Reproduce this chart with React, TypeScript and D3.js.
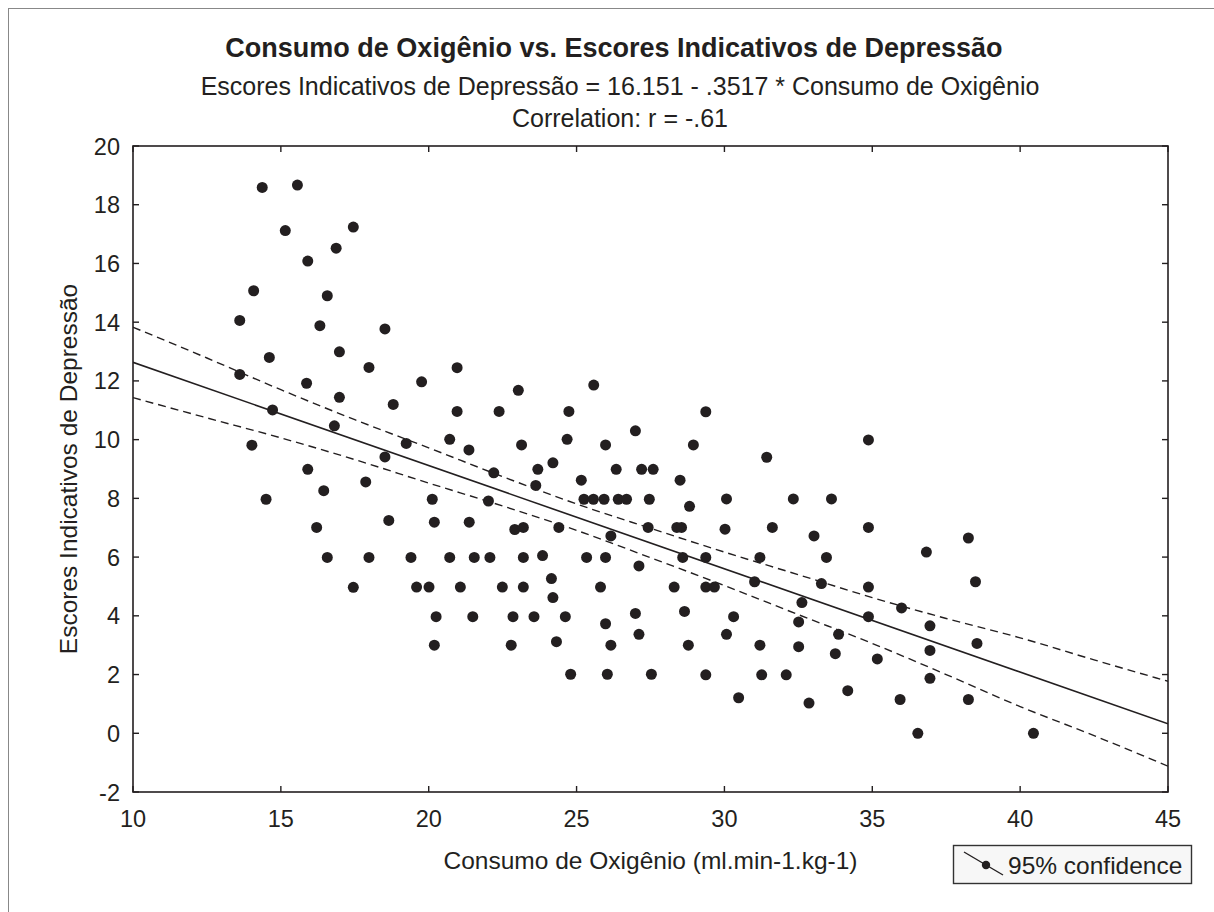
import React from "react";
import * as d3 from "d3";

const pointsX = [14.37,15.56,15.15,17.45,16.87,15.91,14.08,16.57,13.61,16.32,18.52,14.61,16.98,17.98,13.61,15.87,16.98,18.80,14.72,16.81,14.02,18.52,15.91,17.87,16.45,14.50,18.65,16.21,16.57,17.98,17.45,
20.96,19.76,23.03,25.58,20.96,22.38,24.74,26.99,19.24,20.71,21.36,23.14,24.68,25.98,22.20,23.69,24.20,26.34,27.20,27.59,28.50,23.62,25.16,20.12,22.02,25.25,25.57,25.93,26.41,26.69,27.46,20.19,21.37,22.91,23.20,24.40,26.16,27.42,28.39,28.55,19.40,20.71,21.54,22.07,23.20,23.85,25.34,25.98,27.11,19.59,20.01,21.07,22.49,23.20,24.15,24.20,25.81,28.30,20.25,21.49,22.85,23.56,24.62,25.98,26.99,27.11,20.19,22.79,24.32,26.16,24.80,26.04,27.53,
29.37,28.95,31.43,34.87,30.07,32.33,33.62,28.82,30.02,31.62,34.87,33.03,36.83,28.59,29.37,31.20,33.45,31.02,33.28,29.37,29.66,34.87,32.62,35.99,28.65,30.31,34.87,32.51,36.95,30.07,33.86,28.78,31.20,32.51,33.75,35.17,36.95,36.95,29.37,31.26,32.09,30.48,32.86,34.17,35.94,
38.25,38.49,38.54,38.25,36.54,40.45];
const pointsY = [18.59,18.67,17.12,17.24,16.52,16.08,15.07,14.90,14.06,13.88,13.77,12.80,12.99,12.46,12.22,11.92,11.44,11.20,11.01,10.47,9.81,9.41,8.99,8.56,8.26,7.97,7.25,7.01,5.99,5.99,4.97,
12.45,11.97,11.68,11.86,10.96,10.96,10.96,10.30,9.87,10.01,9.65,9.82,10.01,9.82,8.87,8.99,9.21,8.99,8.99,8.99,8.62,8.44,8.62,7.97,7.91,7.97,7.97,7.97,7.97,7.97,7.97,7.19,7.19,6.94,7.01,7.01,6.72,7.01,7.01,7.01,5.99,5.99,5.99,5.99,5.99,6.05,5.99,5.99,5.70,4.98,4.98,4.98,4.98,4.98,5.27,4.62,4.98,4.98,3.97,3.97,3.97,3.97,3.97,3.73,4.08,3.37,3.00,3.00,3.12,3.00,2.01,2.01,2.01,
10.95,9.82,9.40,9.99,7.98,7.98,7.98,7.73,6.95,7.01,7.01,6.72,6.17,5.99,5.99,5.99,5.99,5.16,5.10,4.98,4.98,4.98,4.45,4.27,4.15,3.97,3.97,3.79,3.66,3.37,3.37,3.00,3.00,2.95,2.71,2.53,2.82,1.87,1.99,1.99,1.99,1.21,1.03,1.45,1.15,
6.65,5.16,3.06,1.15,0,0];

const intercept = 16.151;
const slope = -0.3517;

const bandX = [10, 12.5, 15, 17.5, 20, 22.5, 25, 27.5, 30, 32.5, 35, 37.5, 40, 42.5, 45];
const bandUpper = [13.83, 12.78, 11.70, 10.68, 9.72, 8.74, 7.81, 6.98, 6.17, 5.40, 4.62, 3.91, 3.25, 2.50, 1.77];
const bandLower = [11.43, 10.74, 10.06, 9.32, 8.52, 7.74, 6.91, 5.98, 5.03, 4.04, 3.06, 2.00, 0.91, -0.08, -1.12];

const xTicks = [10, 15, 20, 25, 30, 35, 40, 45];
const yTicks = [-2, 0, 2, 4, 6, 8, 10, 12, 14, 16, 18, 20];

const title = "Consumo de Oxigênio vs. Escores Indicativos de Depressão";
const subtitle = "Escores Indicativos de Depressão = 16.151 - .3517 * Consumo de Oxigênio";
const corrText = "Correlation: r = -.61";
const xTitle = "Consumo de Oxigênio (ml.min-1.kg-1)";
const yTitle = "Escores Indicativos de Depressão";
const legendText = "95% confidence";

export default function App() {
  const W = 1214, H = 912;
  const L = 133, R = 1168, T = 146, B = 792;
  const x = d3.scaleLinear().domain([10, 45]).range([L, R]);
  const y = d3.scaleLinear().domain([-2, 20]).range([B, T]);
  const ink = "#231f20";
  const font = "'Liberation Sans', Arial, sans-serif";
  const lineGen = d3.line<number>().x((d) => x(d)).y((d) => y(intercept + slope * d));
  const bandGen = d3.line<number>().x((d, i) => x(bandX[i])).y((d) => y(d)).curve(d3.curveMonotoneX);
  const tickLen = 6;
  const tickFont = 23.5;
  return (
    <svg width={W} height={H} style={{ position: "absolute", left: 0, top: 0, background: "#fff" }} fontFamily={font}>
      <rect x={0} y={0} width={W} height={H} fill="#fff" />
      <line x1={8.5} y1={8} x2={8.5} y2={H} stroke="#888" strokeWidth={1} />
      <line x1={8} y1={8.5} x2={W} y2={8.5} stroke="#888" strokeWidth={1} />
      <text x={614} y={57} textAnchor="middle" fontSize={27} fontWeight="bold" fill={ink}>{title}</text>
      <text x={620} y={95} textAnchor="middle" fontSize={25} fill={ink}>{subtitle}</text>
      <text x={620} y={127} textAnchor="middle" fontSize={25} fill={ink}>{corrText}</text>
      <defs>
        <clipPath id="plotclip"><rect x={L} y={T} width={R - L} height={B - T} /></clipPath>
      </defs>
      <g clipPath="url(#plotclip)">
        <path d={bandGen(bandUpper) || ""} fill="none" stroke={ink} strokeWidth={1.4} strokeDasharray="8,5" />
        <path d={bandGen(bandLower) || ""} fill="none" stroke={ink} strokeWidth={1.4} strokeDasharray="8,5" />
        <path d={lineGen([10, 45]) || ""} fill="none" stroke={ink} strokeWidth={1.6} />
      </g>
      {pointsX.map((px, i) => (
        <circle key={i} cx={x(px)} cy={y(pointsY[i])} r={5.5} fill={ink} />
      ))}
      <rect x={L} y={T} width={R - L} height={B - T} fill="none" stroke={ink} strokeWidth={1.6} />
      {xTicks.map((t) => (
        <g key={"xt" + t}>
          <line x1={x(t)} x2={x(t)} y1={B} y2={B - tickLen} stroke={ink} strokeWidth={1.4} />
          <line x1={x(t)} x2={x(t)} y1={T} y2={T + tickLen} stroke={ink} strokeWidth={1.4} />
          <text x={x(t)} y={B + 35} textAnchor="middle" fontSize={tickFont} fill={ink}>{t}</text>
        </g>
      ))}
      {yTicks.map((t) => (
        <g key={"yt" + t}>
          <line x1={L} x2={L + tickLen} y1={y(t)} y2={y(t)} stroke={ink} strokeWidth={1.4} />
          <line x1={R} x2={R - tickLen} y1={y(t)} y2={y(t)} stroke={ink} strokeWidth={1.4} />
          <text x={L - 13} y={y(t) + 8.5} textAnchor="end" fontSize={tickFont} fill={ink}>{t}</text>
        </g>
      ))}
      <text x={(L + R) / 2} y={869} textAnchor="middle" fontSize={24.5} fill={ink}>{xTitle}</text>
      <text transform={`translate(77, ${(T + B) / 2}) rotate(-90)`} textAnchor="middle" fontSize={24.5} fill={ink}>{yTitle}</text>
      <rect x={953.5} y={845.5} width={238} height={38} fill="#f7f7f7" stroke="#333" strokeWidth={1.4} />
      <line x1={964} y1={852} x2={1003} y2={875} stroke={ink} strokeWidth={1.4} />
      <circle cx={986} cy={865} r={4.2} fill={ink} />
      <text x={1008} y={874} fontSize={24.5} fill={ink}>{legendText}</text>
    </svg>
  );
}
